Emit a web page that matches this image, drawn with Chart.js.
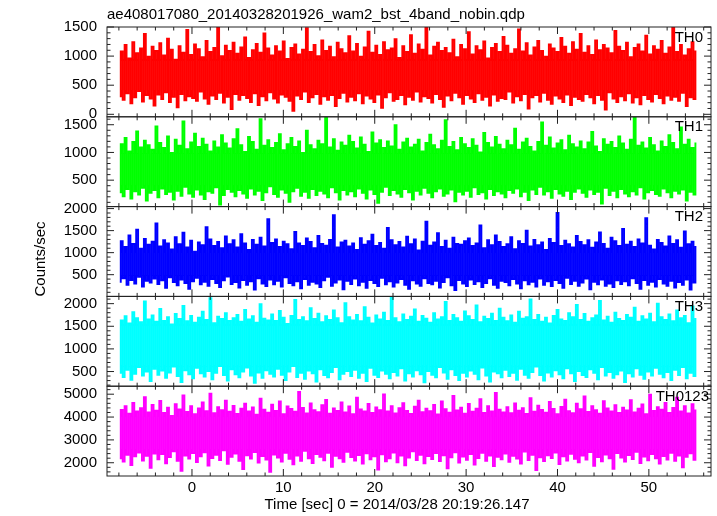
<!DOCTYPE html>
<html>
<head>
<meta charset="utf-8">
<title>ae408017080 WAM2 light curve</title>
<script src="https://cdn.jsdelivr.net/npm/chart.js@4/dist/chart.umd.min.js"></script>
<style>
  html, body { margin: 0; padding: 0; background: #fff; }
  #chart-wrap { width: 717px; height: 516px; }
</style>
</head>
<body>
<div id="chart-wrap"><canvas id="lc-chart" width="717" height="516"></canvas></div>
<script>
const titleText = 'ae408017080_20140328201926_wam2_bst_4band_nobin.qdp';
const xAxisLabel = 'Time [sec] 0 = 2014/03/28 20:19:26.147';
const yAxisLabel = 'Counts/sec';

const panelNames = ['TH0', 'TH1', 'TH2', 'TH3', 'TH0123'];
const panelColors = ['#ff0000', '#00ff00', '#0000ff', '#00ffff', '#ff00ff'];
const panelMin = [-43, 23, 7, 176, 1420];
const panelMax = [1500, 1643, 2045, 2160, 5350];
const panelTicks = [
  [0, 500, 1000, 1500],
  [500, 1000, 1500],
  [500, 1000, 1500, 2000],
  [500, 1000, 1500, 2000],
  [2000, 3000, 4000, 5000]
];
const majorStep = [500, 500, 500, 500, 1000];
const minorStep = [100, 100, 100, 100, 200];

// time axis (sec), first and last bin of the light curves
const timeMin = -9.3;
const timeMax = 56.8;
const timeStart = -7.9;
const timeEnd = 55.2;
const timeTicks = [0, 10, 20, 30, 40, 50];

// the unbinned curves are far denser than the screen, so each pair is
// the low / high excursion read off consecutive columns of the plot
const th0 = [
  310, 1080, 250, 1190, 360, 960, 190, 1240, 290, 1050, 400, 1130, 220, 1380, 330, 990, 270, 1160, 150, 1090,
  340, 1220, 260, 1010, 380, 1300, 210, 1110, 300, 940, 120, 1170, 350, 1060, 240, 1450, 310, 1020, 280, 1200,
  230, 1120, 390, 980, 270, 1260, 180, 1070, 320, 1140, 260, 1500, 370, 1000, 200, 1180, 300, 1090, 90, 1230,
  350, 1040, 250, 1150, 330, 1320, 280, 970, 210, 1100, 360, 1210, 160, 1060, 310, 1390, 240, 1130, 380, 1010,
  270, 1170, 200, 1080, 340, 1250, 300, 950, 230, 1140, 60, 1200, 320, 1030, 260, 1110, 390, 1480, 210, 1070,
  290, 1190, 350, 1000, 180, 1270, 310, 1090, 250, 1160, 330, 980, 140, 1230, 280, 1120, 370, 1050, 220, 1340,
  300, 1080, 240, 1210, 360, 990, 190, 1150, 320, 1420, 270, 1060, 210, 1180, 340, 1020, 110, 1240, 290, 1100,
  380, 1130, 230, 1290, 260, 970, 330, 1170, 170, 1070, 300, 1360, 250, 1040, 390, 1200, 220, 1110, 310, 1500,
  280, 1010, 200, 1160, 350, 1230, 260, 1090, 130, 1140, 320, 1050, 240, 1280, 370, 980, 290, 1190, 180, 1120,
  330, 1410, 270, 1030, 210, 1170, 360, 1100, 250, 1250, 300, 960, 150, 1140, 340, 1210, 230, 1070, 280, 1330,
  260, 1180, 390, 1040, 200, 1120, 310, 1460, 240, 1080, 350, 1220, 100, 1010, 290, 1150, 330, 1260, 220, 1090,
  370, 990, 250, 1200, 180, 1130, 320, 1070, 270, 1310, 210, 1160, 340, 1040, 160, 1240, 300, 1110, 260, 1380,
  230, 1060, 350, 1170, 290, 1020, 190, 1270, 330, 1100, 250, 1190, 80, 1130, 380, 1050, 270, 1430, 210, 1160,
  310, 1090, 240, 1230, 360, 980, 200, 1140, 290, 1200, 170, 1080, 330, 1350, 260, 1030, 220, 1170, 350, 1110,
  280, 1260, 190, 1040, 320, 1150, 250, 1490, 300, 1070, 230, 1190, 370, 1010, 140, 1120, 290, 1240, 260, 1080
];

const th1 = [
  280, 1150, 210, 1260, 340, 1020, 170, 1190, 300, 1380, 240, 1090, 360, 1210, 130, 1130, 270, 1050, 320, 1470,
  190, 1170, 350, 1080, 250, 1290, 290, 990, 150, 1230, 310, 1120, 220, 1560, 380, 1060, 260, 1180, 200, 1340,
  330, 1100, 240, 1250, 160, 1140, 300, 1020, 270, 1200, 370, 1090, 60, 1310, 230, 1160, 340, 1070, 290, 1240,
  210, 1420, 320, 1130, 260, 1010, 180, 1280, 350, 1190, 240, 1050, 310, 1600, 140, 1120, 280, 1220, 390, 1080,
  250, 1170, 200, 1330, 330, 1040, 270, 1150, 110, 1260, 300, 1100, 360, 1200, 220, 990, 290, 1390, 180, 1130,
  340, 1060, 230, 1210, 310, 1150, 260, 1640, 190, 1090, 370, 1240, 280, 1030, 150, 1180, 320, 1120, 240, 1300,
  300, 1190, 210, 1070, 350, 1270, 270, 1140, 170, 1010, 330, 1360, 250, 1160, 90, 1220, 290, 1080, 380, 1200,
  230, 1110, 320, 1490, 260, 1050, 200, 1180, 340, 1250, 280, 1090, 150, 1140, 310, 1230, 240, 1020, 360, 1170,
  270, 1320, 190, 1130, 300, 1060, 350, 1210, 220, 1580, 260, 1100, 330, 1190, 120, 1040, 290, 1260, 240, 1150,
  310, 1080, 200, 1240, 370, 1120, 250, 1000, 280, 1350, 170, 1170, 340, 1090, 230, 1280, 300, 1140, 260, 1060,
  190, 1210, 320, 1130, 270, 1430, 350, 1050, 210, 1180, 290, 1250, 140, 1100, 330, 1020, 250, 1190, 380, 1540,
  240, 1120, 300, 1270, 180, 1070, 340, 1160, 260, 1220, 220, 1040, 310, 1300, 160, 1150, 290, 1090, 350, 1200,
  270, 1060, 200, 1180, 330, 1370, 250, 1110, 290, 1010, 80, 1240, 360, 1140, 230, 1190, 310, 1080, 190, 1290,
  340, 1160, 260, 1050, 210, 1230, 300, 1620, 240, 1120, 370, 1180, 170, 1070, 280, 1260, 320, 1130, 250, 1020,
  220, 1200, 350, 1100, 280, 1310, 190, 1170, 310, 1060, 260, 1450, 330, 1140, 130, 1230, 290, 1080, 240, 1160
];

const th2 = [
  340, 1260, 420, 1130, 270, 1390, 380, 1200, 300, 1520, 450, 1090, 230, 1310, 360, 1180, 320, 1250, 410, 1660,
  290, 1140, 370, 1280, 200, 1210, 440, 1070, 330, 1350, 260, 1190, 390, 1450, 310, 1120, 180, 1270, 350, 1020,
  430, 1230, 280, 1170, 340, 1580, 250, 1300, 400, 1150, 310, 1240, 220, 1100, 370, 1370, 460, 1190, 290, 1280,
  330, 1120, 210, 1420, 380, 1210, 270, 1060, 350, 1290, 160, 1180, 420, 1340, 300, 1140, 240, 1760, 390, 1220,
  280, 1300, 360, 1130, 230, 1250, 440, 1190, 310, 1080, 260, 1470, 350, 1210, 190, 1150, 400, 1320, 270, 1240,
  340, 1100, 300, 1380, 220, 1200, 370, 1160, 450, 1290, 250, 1850, 320, 1120, 390, 1230, 170, 1270, 360, 1140,
  290, 1210, 410, 1060, 260, 1330, 340, 1180, 200, 1260, 380, 1410, 310, 1150, 240, 1220, 430, 1090, 280, 1560,
  350, 1280, 230, 1170, 320, 1240, 400, 1120, 270, 1360, 180, 1190, 370, 1300, 300, 1050, 250, 1250, 420, 1700,
  310, 1160, 280, 1230, 360, 1440, 210, 1130, 330, 1270, 440, 1090, 260, 1340, 150, 1200, 380, 1180, 300, 1260,
  240, 1320, 390, 1150, 290, 1210, 350, 1620, 220, 1100, 310, 1280, 420, 1170, 270, 1390, 200, 1240, 360, 1130,
  330, 1190, 260, 1350, 400, 1080, 300, 1260, 190, 1200, 370, 1500, 280, 1140, 340, 1290, 230, 1170, 410, 1230,
  270, 1060, 350, 1310, 240, 1220, 380, 1900, 310, 1150, 200, 1270, 430, 1190, 290, 1120, 360, 1380, 250, 1240,
  320, 1170, 410, 1280, 170, 1110, 340, 1230, 280, 1460, 390, 1200, 250, 1090, 300, 1340, 220, 1260, 370, 1150,
  290, 1540, 350, 1180, 260, 1250, 420, 1130, 310, 1300, 180, 1210, 380, 1780, 270, 1160, 340, 1070, 230, 1290,
  400, 1220, 300, 1140, 250, 1370, 360, 1200, 210, 1280, 330, 1110, 270, 1480, 390, 1190, 160, 1250, 320, 1130
];

const th3 = [
  470, 1630, 380, 1720, 540, 1560, 320, 1810, 450, 1680, 600, 1590, 410, 2050, 500, 1650, 290, 1740, 560, 1600,
  430, 1880, 520, 1620, 360, 1700, 480, 1540, 610, 1770, 400, 1660, 270, 1950, 530, 1610, 440, 1730, 350, 1580,
  580, 1690, 460, 1820, 390, 1640, 510, 2120, 330, 1570, 470, 1710, 620, 1660, 420, 1790, 300, 1620, 550, 1680,
  440, 1750, 370, 1600, 500, 1860, 590, 1650, 410, 1720, 250, 1580, 480, 1990, 360, 1670, 530, 1630, 450, 1760,
  390, 1620, 560, 1840, 430, 1690, 310, 1550, 500, 1730, 620, 2080, 380, 1640, 470, 1700, 340, 1610, 520, 1900,
  460, 1660, 280, 1780, 550, 1590, 420, 1720, 370, 1640, 490, 1850, 600, 1680, 330, 1570, 450, 2010, 510, 1700,
  400, 1630, 540, 1750, 360, 1610, 470, 1920, 290, 1690, 580, 1560, 430, 1740, 380, 1650, 520, 1800, 450, 1620,
  350, 2150, 490, 1680, 410, 1590, 570, 1760, 300, 1640, 460, 1710, 390, 1870, 530, 1600, 440, 1730, 260, 1670,
  510, 1580, 430, 1790, 370, 1650, 600, 1700, 480, 2040, 340, 1620, 550, 1750, 420, 1680, 310, 1600, 470, 1830,
  390, 1720, 520, 1640, 450, 1960, 330, 1590, 590, 1710, 410, 1660, 280, 1780, 500, 1620, 460, 1890, 370, 1690,
  540, 1610, 400, 1740, 470, 1580, 320, 1820, 560, 1670, 430, 1700, 360, 2090, 490, 1640, 610, 1750, 420, 1600,
  300, 1690, 480, 1560, 390, 1730, 530, 1860, 440, 1650, 350, 1620, 570, 1790, 460, 1700, 290, 1970, 510, 1640,
  420, 1770, 380, 1600, 550, 1680, 470, 1740, 330, 2060, 600, 1630, 410, 1710, 490, 1580, 360, 1800, 440, 1660,
  520, 1620, 270, 1750, 460, 1690, 390, 1910, 570, 1600, 430, 1720, 340, 1650, 500, 1780, 410, 1590, 580, 2000,
  450, 1700, 370, 1640, 490, 1760, 310, 1610, 540, 1850, 420, 1680, 600, 1730, 350, 1570, 470, 1940, 400, 1660
];

const th0123 = [
  2200, 4310, 2050, 4480, 2350, 4150, 1900, 4620, 2280, 4240, 2450, 4390, 2100, 4870, 2300, 4200, 1780, 4530, 2400, 4280,
  2150, 4700, 2380, 4180, 1980, 4410, 2250, 4050, 2500, 4560, 2080, 4330, 1650, 4950, 2320, 4220, 2180, 4470, 2420, 4120,
  2030, 4380, 2280, 4640, 2460, 4260, 1880, 5020, 2210, 4170, 2350, 4430, 2120, 4300, 2550, 4710, 1950, 4230, 2260, 4490,
  2400, 4140, 2090, 4360, 1720, 4580, 2330, 4250, 2180, 4420, 2470, 4100, 2010, 4800, 2290, 4320, 2140, 4190, 1600, 4540,
  2360, 4270, 2230, 4680, 2050, 4130, 2440, 4460, 2170, 4350, 1930, 4230, 2310, 5100, 2080, 4400, 2520, 4160, 2200, 4590,
  1990, 4300, 2380, 4210, 2260, 4520, 2110, 4750, 2430, 4150, 1820, 4380, 2300, 4270, 2190, 4640, 2040, 4200, 2480, 4460,
  2250, 4120, 2100, 4850, 2340, 4330, 1960, 4240, 2410, 4570, 2150, 4180, 2280, 4420, 1700, 4300, 2370, 4990, 2060, 4250,
  2200, 4480, 2450, 4160, 2020, 4390, 2310, 4610, 1890, 4270, 2230, 4140, 2500, 4450, 2120, 4720, 2350, 4210, 1980, 4360,
  2290, 4260, 2160, 4530, 2420, 4110, 2070, 4680, 2330, 4340, 1760, 4190, 2240, 4920, 2460, 4290, 2010, 4410, 2270, 4150,
  2130, 4570, 2380, 4230, 1920, 4360, 2210, 4780, 2440, 4180, 2090, 4470, 2320, 4250, 1850, 5060, 2260, 4320, 2150, 4200,
  2400, 4430, 2040, 4170, 2300, 4600, 2180, 4280, 1970, 4390, 2490, 4140, 2120, 4820, 2350, 4230, 1680, 4500, 2240, 4310,
  2070, 4190, 2330, 4660, 2210, 4350, 2450, 4120, 1940, 4440, 2280, 4760, 2100, 4260, 2390, 4170, 2170, 4580, 2020, 4340,
  2310, 4900, 2140, 4220, 2470, 4470, 1870, 4300, 2250, 4150, 2060, 4690, 2360, 4380, 2190, 4240, 1740, 4520, 2420, 4180,
  2230, 4410, 2050, 4290, 2340, 4740, 2160, 4200, 2480, 4360, 1990, 4550, 2270, 4130, 2110, 4980, 2380, 4270, 2200, 4430,
  1960, 4320, 2290, 4620, 2140, 4180, 2430, 4400, 2080, 4850, 2320, 4250, 1800, 4480, 2260, 4160, 2410, 4560, 2130, 4290
];

const panelSeries = [th0, th1, th2, th3, th0123];

const fontFamily = '"Liberation Sans", Arial, Helvetica, sans-serif';
const tickFont = { family: fontFamily, size: 15 };

function toPoints(values) {
  const dt = (timeEnd - timeStart) / (values.length - 1);
  return values.map((v, i) => ({ x: timeStart + i * dt, y: v }));
}

// QDP style frames: every panel boxed, ticks pointing inwards on all sides
const qdpFrame = {
  id: 'qdpFrame',
  beforeDatasetDraw(chart, args) {
    const { ctx, chartArea } = chart;
    const ys = chart.scales[args.meta.yAxisID];
    ctx.save();
    ctx.beginPath();
    ctx.rect(chartArea.left, ys.top, chartArea.right - chartArea.left, ys.bottom - ys.top);
    ctx.clip();
  },
  afterDatasetDraw(chart) {
    chart.ctx.restore();
  },
  afterDraw(chart) {
    const { ctx, chartArea } = chart;
    const xs = chart.scales.x;
    const left = chartArea.left;
    const right = chartArea.right;

    ctx.save();
    ctx.strokeStyle = '#222';
    ctx.lineWidth = 1;

    panelNames.forEach((name, i) => {
      const ys = chart.scales['y' + i];
      const top = ys.top;
      const bottom = ys.bottom;
      ctx.strokeRect(left, top, right - left, bottom - top);

      ctx.beginPath();
      for (let t = Math.ceil(timeMin / 2) * 2; t <= timeMax; t += 2) {
        const px = xs.getPixelForValue(t);
        const len = t % 10 === 0 ? 7 : 3.5;
        ctx.moveTo(px, bottom);
        ctx.lineTo(px, bottom - len);
        ctx.moveTo(px, top);
        ctx.lineTo(px, top + len);
      }
      for (let v = Math.ceil(panelMin[i] / minorStep[i]) * minorStep[i]; v <= panelMax[i]; v += minorStep[i]) {
        const py = ys.getPixelForValue(v);
        const len = v % majorStep[i] === 0 ? 7 : 3.5;
        ctx.moveTo(left, py);
        ctx.lineTo(left + len, py);
        ctx.moveTo(right, py);
        ctx.lineTo(right - len, py);
      }
      ctx.stroke();

      // the long summed-band label sits a little further right in the original
      const inset = name.length > 3 ? 2 : 8;
      ctx.fillStyle = '#000';
      ctx.font = '15px ' + fontFamily;
      ctx.textAlign = 'right';
      ctx.textBaseline = 'middle';
      ctx.fillText(name, right - inset, top + 10.5);
    });

    ctx.fillStyle = '#000';
    ctx.font = '15px ' + fontFamily;
    ctx.textBaseline = 'middle';
    ctx.textAlign = 'left';
    ctx.fillText(titleText, left, 15);

    ctx.textAlign = 'center';
    ctx.fillText(xAxisLabel, 397, 505);

    ctx.translate(41, 259);
    ctx.rotate(-Math.PI / 2);
    ctx.fillText(yAxisLabel, 0, 0);
    ctx.restore();
  }
};

const scales = {
  x: {
    type: 'linear',
    min: timeMin,
    max: timeMax,
    grid: { display: false, drawTicks: false },
    border: { display: false },
    ticks: { padding: 3, font: tickFont, color: '#000', maxRotation: 0, autoSkip: false, callback: (v) => String(v) },
    afterBuildTicks: (s) => { s.ticks = timeTicks.map((v) => ({ value: v })); },
    afterFit: (s) => { s.height = 40; }
  }
};

// left-hand stacked boxes are laid out last-added first, so add the bottom panel first
for (let i = panelNames.length - 1; i >= 0; i--) {
  scales['y' + i] = {
    type: 'linear',
    position: 'left',
    stack: 'panels',
    stackWeight: 1,
    min: panelMin[i],
    max: panelMax[i],
    grid: { display: false, drawTicks: false },
    border: { display: false },
    ticks: { padding: 10, font: tickFont, color: '#000', autoSkip: false, callback: (v) => String(v) },
    afterBuildTicks: (s) => { s.ticks = panelTicks[i].map((v) => ({ value: v })); },
    afterFit: (s) => { s.width = 107; }
  };
}

const datasets = panelSeries.map((values, i) => ({
  label: panelNames[i],
  data: toPoints(values),
  yAxisID: 'y' + i,
  borderColor: panelColors[i],
  borderWidth: 1.9,
  stepped: 'middle',
  pointRadius: 0,
  fill: false
}));

new Chart(document.getElementById('lc-chart'), {
  type: 'line',
  data: { datasets },
  options: {
    responsive: false,
    animation: false,
    devicePixelRatio: 1,
    events: [],
    layout: { padding: { top: 27, right: 6, left: 0, bottom: 0 } },
    plugins: {
      legend: { display: false },
      title: { display: false },
      tooltip: { enabled: false }
    },
    scales
  },
  plugins: [qdpFrame]
});
</script>
</body>
</html>
